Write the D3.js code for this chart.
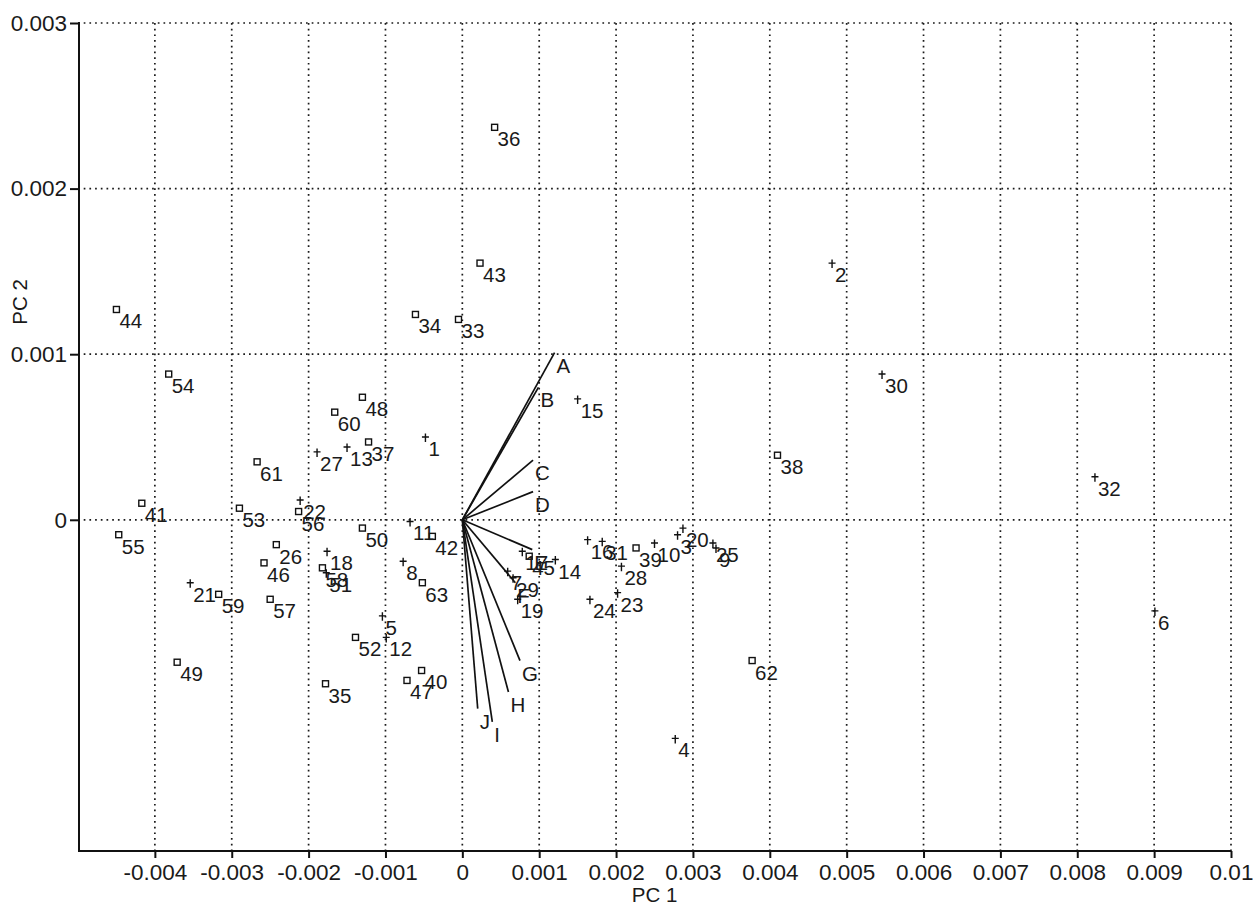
<!DOCTYPE html>
<html>
<head>
<meta charset="utf-8">
<script src="https://cdn.jsdelivr.net/npm/d3@7"></script>
<style>
  body { margin: 0; background: #fff; }
  svg { font-family: "Liberation Sans", Arial, sans-serif; }
  .axis path, .axis line { stroke: #111; stroke-width: 2; }
  .axis text { font-size: 22.5px; fill: #1a1a1a; }
  .grid line { stroke: #1a1a1a; stroke-width: 1.7; stroke-dasharray: 1.7,4; }
  .lbl { font-size: 20.5px; fill: #1a1a1a; }
</style>
</head>
<body>
<div id="chart"></div>
<script>
var xTicks = [-0.004, -0.003, -0.002, -0.001, 0, 0.001, 0.002, 0.003, 0.004, 0.005, 0.006, 0.007, 0.008, 0.009, 0.01];
var xTickLabels = ['-0.004', '-0.003', '-0.002', '-0.001', '0', '0.001', '0.002', '0.003', '0.004', '0.005', '0.006', '0.007', '0.008', '0.009', '0.01'];
var yTicks = [0, 0.001, 0.002, 0.003];
var yTickLabels = ['0', '0.001', '0.002', '0.003'];

// samples drawn as open squares
var squareIds = ['36', '43', '44', '34', '33', '54', '48', '60', '37', '61', '38', '41', '53', '56', '50', '42',
    '26', '46', '58', '63', '59', '57', '52', '49', '35', '40', '47', '55', '62', '39', '45'];
var squareX = [0.00042, 0.00023, -0.00450, -0.00061, -0.00005, -0.00382, -0.00130, -0.00166, -0.00122, -0.00267,
    0.00410, -0.00417, -0.00290, -0.00213, -0.00130, -0.00039, -0.00242, -0.00258, -0.00182, -0.00052, -0.00317,
    -0.00250, -0.00139, -0.00371, -0.00178, -0.00053, -0.00072, -0.00447, 0.00377, 0.00226, 0.00087];
var squareY = [0.00237, 0.00155, 0.00127, 0.00124, 0.00121, 0.00088, 0.00074, 0.00065, 0.00047, 0.00035,
    0.00039, 0.00010, 0.00007, 0.00005, -0.00005, -0.00010, -0.00015, -0.00026, -0.00029, -0.00038, -0.00045,
    -0.00048, -0.00071, -0.00086, -0.00099, -0.00091, -0.00097, -0.00009, -0.00085, -0.00017, -0.00022];

// samples drawn as crosses
var plusIds = ['1', '2', '3', '4', '5', '6', '7', '8', '9', '10', '11', '12', '13', '14', '15', '16', '17', '18',
    '19', '20', '21', '22', '23', '24', '25', '27', '28', '29', '30', '31', '32', '51'];
var plusX = [-0.00048, 0.00481, 0.00280, 0.00277, -0.00104, 0.00901, 0.00059, -0.00077, 0.00330, 0.00250,
    -0.00068, -0.00099, -0.00150, 0.00121, 0.00150, 0.00163, 0.00078, -0.00176, 0.00072, 0.00287, -0.00354,
    -0.00211, 0.00202, 0.00166, 0.00326, -0.00189, 0.00207, 0.00066, 0.00546, 0.00182, 0.00823, -0.00177];
var plusY = [0.00050, 0.00155, -0.00009, -0.00132, -0.00058, -0.00055, -0.00031, -0.00025, -0.00017, -0.00014,
    -0.00001, -0.00071, 0.00044, -0.00024, 0.00073, -0.00012, -0.00019, -0.00019, -0.00048, -0.00005, -0.00038,
    0.00012, -0.00044, -0.00048, -0.00014, 0.00041, -0.00028, -0.00035, 0.00088, -0.00013, 0.00026, -0.00032];

// variable loadings (biplot arrows)
var loadNames = ['A', 'B', 'C', 'D', 'E', 'F', 'G', 'H', 'I', 'J'];
var loadX = [0.00120, 0.00099, 0.00092, 0.00092, 0.00091, 0.00069, 0.00075, 0.00060, 0.00039, 0.00020];
var loadY = [0.00101, 0.00080, 0.00036, 0.00017, -0.00018, -0.00038, -0.00085, -0.00104, -0.00122, -0.00114];

(function() {
    var W = 1253, H = 906;
    var plotLeft = 78, plotRight = 1231, plotTop = 23, plotBottom = 851;

    var x = d3.scaleLinear().domain([-0.005, 0.01]).range([plotLeft, plotRight]);
    var y = d3.scaleLinear().domain([-0.002, 0.003]).range([plotBottom, plotTop]);

    var svg = d3.select('#chart').append('svg')
        .attr('width', W)
        .attr('height', H);

    // dotted grid
    var grid = svg.append('g').attr('class', 'grid');
    grid.selectAll('.vx').data(xTicks).enter().append('line')
        .attr('x1', function(d) { return x(d); })
        .attr('x2', function(d) { return x(d); })
        .attr('y1', plotTop)
        .attr('y2', plotBottom);
    grid.selectAll('.hy').data(yTicks).enter().append('line')
        .attr('x1', plotLeft)
        .attr('x2', plotRight)
        .attr('y1', function(d) { return y(d); })
        .attr('y2', function(d) { return y(d); });

    var xAxis = d3.axisBottom(x).tickValues(xTicks).tickSizeOuter(0).tickSize(7).tickPadding(6)
        .tickFormat(function(d, i) { return xTickLabels[i]; });
    var yAxis = d3.axisLeft(y).tickValues(yTicks).tickSizeOuter(0).tickSize(9).tickPadding(3)
        .tickFormat(function(d, i) { return yTickLabels[i]; });

    svg.append('g')
        .attr('class', 'x axis')
        .attr('transform', 'translate(0,' + plotBottom + ')')
        .call(xAxis);
    svg.select('.x.axis path').attr('d', 'M' + plotLeft + ',0H' + plotRight);

    svg.append('g')
        .attr('class', 'y axis')
        .attr('transform', 'translate(' + (plotLeft + 1) + ',0)')
        .call(yAxis);
    svg.select('.y.axis path').attr('d', 'M0,' + (plotTop - 1) + 'V' + (plotBottom + 1));

    svg.append('text')
        .attr('class', 'lbl')
        .attr('x', (plotLeft + plotRight) / 2)
        .attr('y', 902)
        .attr('text-anchor', 'middle')
        .text('PC 1');

    svg.append('text')
        .attr('class', 'lbl')
        .attr('transform', 'translate(27,302) rotate(-90)')
        .attr('text-anchor', 'middle')
        .text('PC 2');

    // loading arrows
    var loads = loadNames.map(function(n, i) { return {name: n, x: loadX[i], y: loadY[i]}; });
    svg.selectAll('.load').data(loads).enter().append('line')
        .attr('x1', x(0))
        .attr('y1', y(0))
        .attr('x2', function(d) { return x(d.x); })
        .attr('y2', function(d) { return y(d.y); })
        .attr('stroke', '#111')
        .attr('stroke-width', 1.7);
    svg.selectAll('.loadlbl').data(loads).enter().append('text')
        .attr('class', 'lbl')
        .attr('x', function(d) { return x(d.x) + 2; })
        .attr('y', function(d) { return y(d.y) + 20; })
        .text(function(d) { return d.name; });

    // squares
    var sq = squareIds.map(function(id, i) { return {id: id, x: squareX[i], y: squareY[i]}; });
    svg.selectAll('.sq').data(sq).enter().append('rect')
        .attr('x', function(d) { return x(d.x) - 3; })
        .attr('y', function(d) { return y(d.y) - 3; })
        .attr('width', 6)
        .attr('height', 6)
        .attr('fill', 'none')
        .attr('stroke', '#111')
        .attr('stroke-width', 1.4);

    // crosses
    var pl = plusIds.map(function(id, i) { return {id: id, x: plusX[i], y: plusY[i]}; });
    svg.selectAll('.pl').data(pl).enter().append('path')
        .attr('d', function(d) {
            var cx = x(d.x), cy = y(d.y);
            return 'M' + (cx - 3.5) + ',' + cy + 'H' + (cx + 3.5) + 'M' + cx + ',' + (cy - 3.5) + 'V' + (cy + 5);
        })
        .attr('fill', 'none')
        .attr('stroke', '#111')
        .attr('stroke-width', 1.4);

    svg.selectAll('.ptlbl').data(sq.concat(pl)).enter().append('text')
        .attr('class', 'lbl')
        .attr('x', function(d) { return x(d.x) + 3; })
        .attr('y', function(d) { return y(d.y) + 19; })
        .text(function(d) { return d.id; });
})();
</script>
</body>
</html>
